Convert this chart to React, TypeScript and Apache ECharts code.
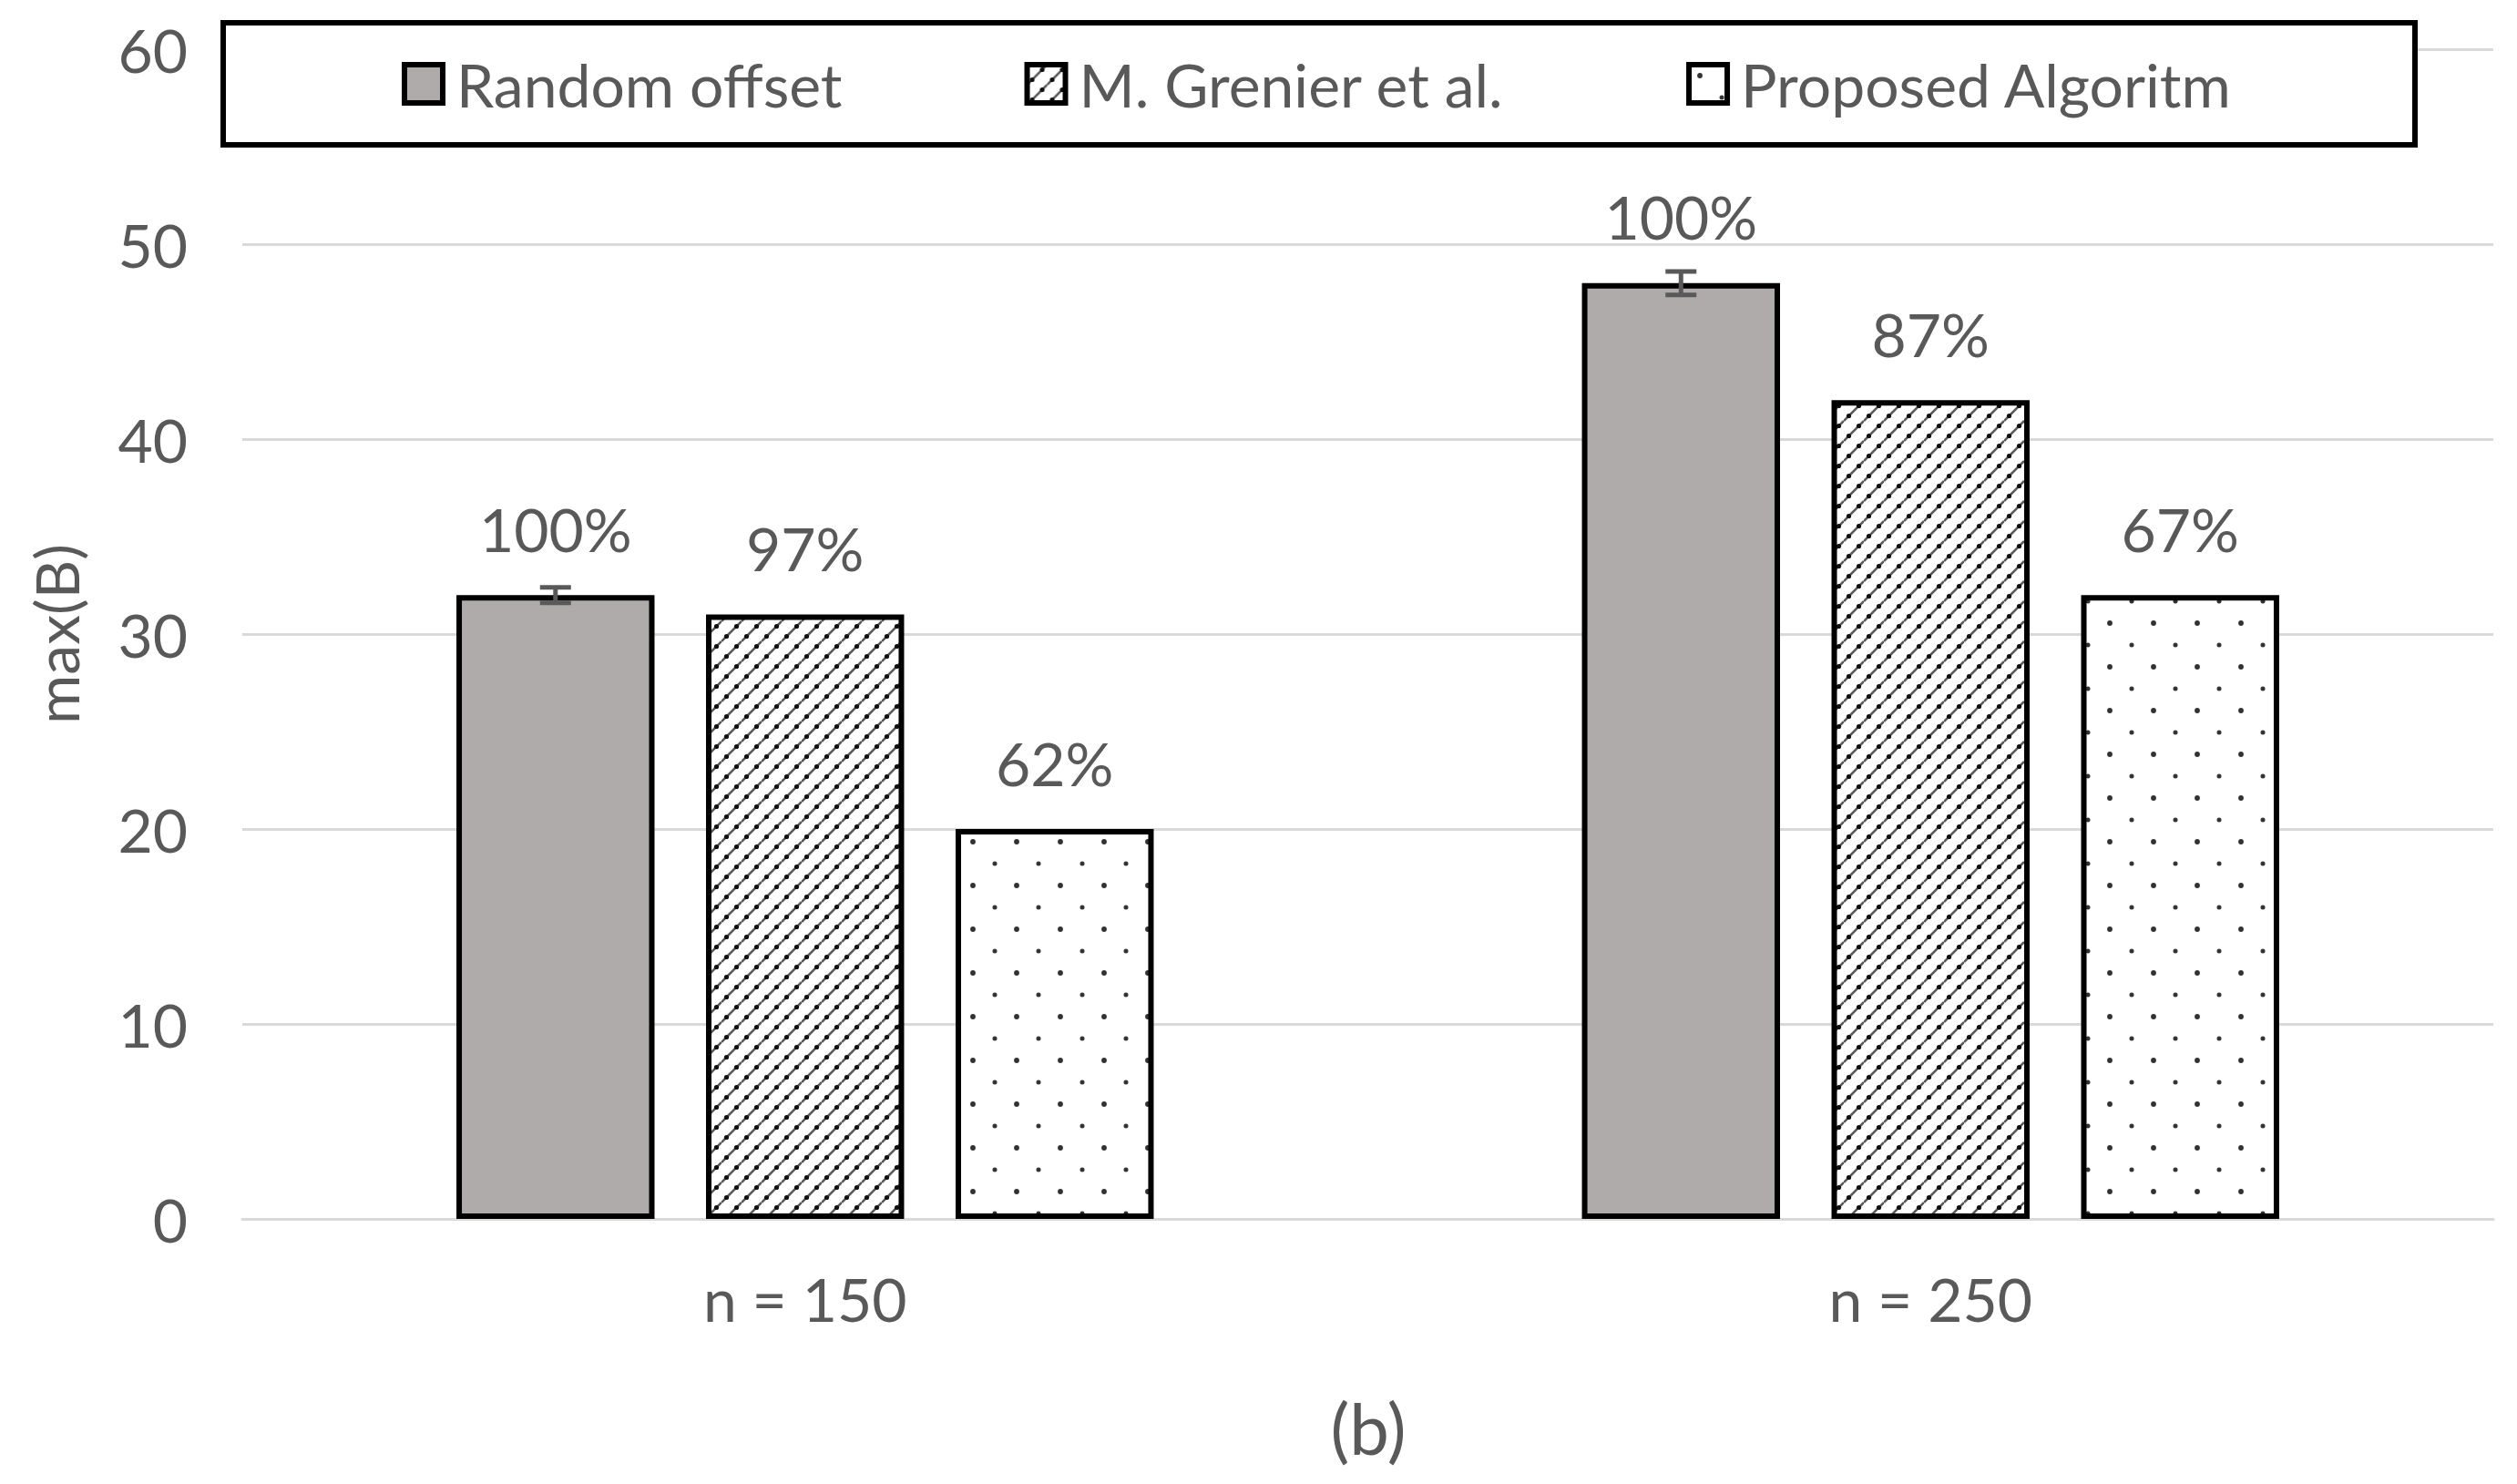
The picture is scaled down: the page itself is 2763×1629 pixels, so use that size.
import React, { useEffect, useRef } from "react";
import * as echarts from "echarts";

const categories = ["n = 150", "n = 250"];
const seriesNames = ["Random offset", "M. Grenier et al.", "Proposed Algoritm"];
const randomOffset = [32, 48];
const grenier = [31, 42];
const proposed = [20, 32];
const randomErr = [0.4, 0.6];
const randomLabels = ["100%", "100%"];
const grenierLabels = ["97%", "87%"];
const proposedLabels = ["62%", "67%"];
const yMin = 0;
const yMax = 60;
const yInterval = 10;
const yAxisName = "max(B)";
const subCaption = "(b)";

const FONT = "Lato";
const TEXT = "#595959";

function makeHatch(): HTMLCanvasElement {
  const s = 22;
  const c = document.createElement("canvas");
  c.width = s;
  c.height = s;
  const ctx = c.getContext("2d")!;
  ctx.fillStyle = "#ffffff";
  ctx.fillRect(0, 0, s, s);
  ctx.strokeStyle = "#5a5a5a";
  ctx.lineWidth = 2.6;
  for (const k of [-s, 0, s]) {
    ctx.beginPath();
    ctx.moveTo(0, s + k);
    ctx.lineTo(s, k);
    ctx.stroke();
  }
  ctx.fillStyle = "#111111";
  for (const [x, y] of [[5.5, 16.5], [16.5, 5.5]]) {
    ctx.beginPath();
    ctx.arc(x, y, 2.6, 0, Math.PI * 2);
    ctx.fill();
  }
  return c;
}

function makeDots(): HTMLCanvasElement {
  const s = 48;
  const c = document.createElement("canvas");
  c.width = s;
  c.height = s;
  const ctx = c.getContext("2d")!;
  ctx.fillStyle = "#ffffff";
  ctx.fillRect(0, 0, s, s);
  ctx.fillStyle = "#333333";
  for (const [x, y, r] of [[12, 12, 2.9], [36, 36, 2.5]]) {
    ctx.beginPath();
    ctx.arc(x, y, r, 0, Math.PI * 2);
    ctx.fill();
  }
  return c;
}

export default function App() {
  const ref = useRef<HTMLDivElement>(null);
  useEffect(() => {
    if (!ref.current) return;
    const chart = echarts.init(ref.current, undefined, { renderer: "svg" });
    const hatch = makeHatch();
    const dots = makeDots();
    const barWidthFrac = 0.176;
    const barGapFrac = 0.26;
    const labelStyle = {
      show: true,
      position: "top" as const,
      distance: 40,
      fontFamily: FONT,
      fontSize: 66,
      color: TEXT,
    };
    const barBorder = { borderColor: "#000000", borderWidth: 6 };

    chart.setOption({
      animation: false,
      backgroundColor: "#ffffff",
      textStyle: { fontFamily: FONT },
      grid: { left: 266, right: 26, top: 54, bottom: 291, containLabel: false },
      graphic: [
        {
          type: "rect",
          z: 3,
          shape: { x: 245, y: 25, width: 2406, height: 134 },
          style: { fill: "#ffffff", stroke: "#000000", lineWidth: 6 },
        },
        {
          type: "text",
          z: 3,
          x: 1502,
          y: 1567,
          style: {
            text: subCaption,
            fontFamily: FONT,
            fontSize: 78,
            fill: TEXT,
            textAlign: "center",
            textVerticalAlign: "middle",
          },
        },
      ],
      legend: {
        data: seriesNames,
        left: 441,
        top: 59,
        icon: "rect",
        itemWidth: 42,
        itemHeight: 42,
        itemGap: 200,
        padding: 0,
        selectedMode: false,
        z: 5,
        itemStyle: { borderColor: "#000000", borderWidth: 6 },
        textStyle: {
          fontFamily: FONT,
          fontSize: 66,
          color: TEXT,
          padding: [0, 0, 0, 10],
        },
      },
      xAxis: {
        type: "category",
        data: categories,
        axisLine: { show: true, lineStyle: { color: "#d9d9d9", width: 3 } },
        axisTick: { show: false },
        axisLabel: { fontFamily: FONT, fontSize: 66, color: TEXT, margin: 54 },
      },
      yAxis: {
        type: "value",
        min: yMin,
        max: yMax,
        interval: yInterval,
        name: yAxisName,
        nameLocation: "middle",
        nameRotate: 90,
        nameGap: 172,
        nameTextStyle: { fontFamily: FONT, fontSize: 66, color: TEXT },
        axisLine: { show: false },
        axisTick: { show: false },
        axisLabel: { fontFamily: FONT, fontSize: 66, color: TEXT, margin: 60 },
        splitLine: { lineStyle: { color: "#d9d9d9", width: 3 } },
      },
      series: [
        {
          name: seriesNames[0],
          type: "bar",
          data: randomOffset,
          barWidth: `${barWidthFrac * 100}%`,
          barGap: `${barGapFrac * 100}%`,
          itemStyle: { color: "#afabab", ...barBorder },
          label: { ...labelStyle, formatter: (p: any) => randomLabels[p.dataIndex] },
        },
        {
          name: seriesNames[1],
          type: "bar",
          data: grenier,
          barWidth: `${barWidthFrac * 100}%`,
          barGap: `${barGapFrac * 100}%`,
          itemStyle: {
            color: { image: hatch, repeat: "repeat", imageWidth: 22, imageHeight: 22 } as any,
            ...barBorder,
          },
          label: { ...labelStyle, formatter: (p: any) => grenierLabels[p.dataIndex] },
        },
        {
          name: seriesNames[2],
          type: "bar",
          data: proposed,
          barWidth: `${barWidthFrac * 100}%`,
          barGap: `${barGapFrac * 100}%`,
          itemStyle: {
            color: { image: dots, repeat: "repeat", imageWidth: 48, imageHeight: 48 } as any,
            ...barBorder,
          },
          label: { ...labelStyle, formatter: (p: any) => proposedLabels[p.dataIndex] },
        },
        {
          name: "error",
          type: "custom",
          silent: true,
          z: 6,
          data: randomOffset.map((v, i) => [i, v - randomErr[i], v + randomErr[i]]),
          renderItem: (_params: any, api: any) => {
            const catW = api.size([1, 0])[0];
            const bw = catW * barWidthFrac;
            const offset = -(bw + bw * barGapFrac);
            const lo = api.coord([api.value(0), api.value(1)]);
            const hi = api.coord([api.value(0), api.value(2)]);
            const x = lo[0] + offset;
            const half = 17;
            const style = { stroke: "#595959", lineWidth: 5 };
            return {
              type: "group",
              children: [
                { type: "line", shape: { x1: x, y1: lo[1], x2: x, y2: hi[1] }, style },
                { type: "line", shape: { x1: x - half, y1: lo[1], x2: x + half, y2: lo[1] }, style },
                { type: "line", shape: { x1: x - half, y1: hi[1], x2: x + half, y2: hi[1] }, style },
              ],
            };
          },
        },
      ],
    });
    return () => chart.dispose();
  }, []);
  return (
    <div
      ref={ref}
      style={{ position: "fixed", left: 0, top: 0, width: 2763, height: 1629 }}
    />
  );
}
